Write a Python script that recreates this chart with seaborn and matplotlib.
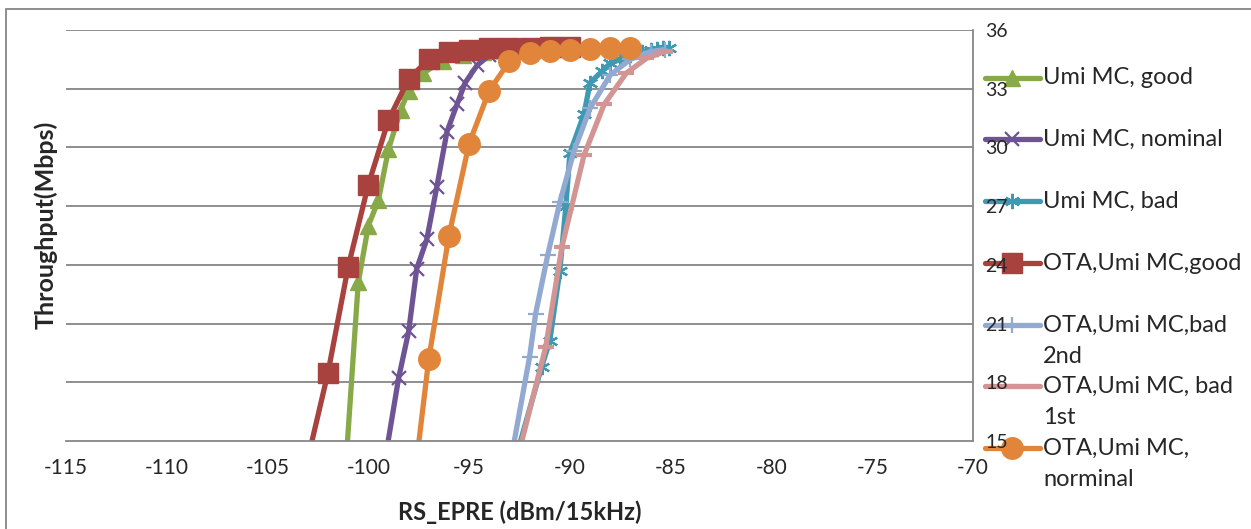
import matplotlib
matplotlib.use("Agg")
import matplotlib.pyplot as plt
from matplotlib.lines import Line2D
from matplotlib.patches import Rectangle
import seaborn as sns
import pandas as pd

# data
x_good = [-101.1, -100.5, -100.0, -99.5, -99.0, -98.4, -98.0, -97.3, -96.3, -95.3, -94.3, -93.3]
y_good = [14.0, 23.1, 26.0, 27.3, 29.9, 31.9, 32.9, 33.8, 34.4, 34.7, 34.9, 35.0]

x_nom = [-99.5, -98.5, -98.0, -97.6, -97.1, -96.6, -96.1, -95.6, -95.2, -94.6, -94.0, -93.3]
y_nom = [12.0, 18.2, 20.6, 23.8, 25.3, 28.0, 30.8, 32.2, 33.3, 34.2, 34.7, 34.9]

x_bad = [-93.0, -91.4, -91.0, -90.5, -90.2, -90.0, -89.3, -89.0, -88.4, -88.0, -87.5, -87.0,
         -86.4, -86.0, -85.7, -85.4, -85.1]
y_bad = [13.0, 18.8, 20.1, 23.7, 27.0, 29.7, 31.7, 33.3, 33.9, 34.3, 34.5, 34.7,
         34.9, 35.0, 35.05, 35.1, 35.1]

x_ota_good = [-103, -102, -101, -100, -99, -98, -97, -96, -95, -94, -93, -92, -91, -90]
y_ota_good = [14.1, 18.5, 23.9, 28.1, 31.4, 33.5, 34.5, 34.9, 35.0, 35.1, 35.1, 35.1, 35.15, 35.15]

x_bad2 = [-93.2, -92.0, -91.7, -91.1, -90.5, -89.8, -89.0, -88.0, -87.0, -86.0, -85.3]
y_bad2 = [12.5, 19.3, 21.5, 24.5, 27.2, 29.8, 32.0, 33.7, 34.5, 34.9, 35.0]

x_bad1 = [-93.0, -91.2, -90.4, -89.3, -88.3, -87.2, -86.2, -85.3]
y_bad1 = [12.5, 19.8, 24.9, 29.6, 32.2, 33.8, 34.55, 34.9]

x_ota_nom = [-98, -97, -96, -95, -94, -93, -92, -91, -90, -89, -88, -87]
y_ota_nom = [10.6, 19.2, 25.5, 30.2, 32.9, 34.4, 34.8, 34.95, 35.0, 35.05, 35.1, 35.1]

labels = ["Umi MC, good", "Umi MC, nominal", "Umi MC, bad", "OTA,Umi MC,good",
          "OTA,Umi MC,bad\n2nd", "OTA,Umi MC, bad\n1st", "OTA,Umi MC,\nnorminal"]
x_ticks = [-115, -110, -105, -100, -95, -90, -85, -80, -75, -70]
y_ticks = [15, 18, 21, 24, 27, 30, 33, 36]

series = [(x_good, y_good), (x_nom, y_nom), (x_bad, y_bad), (x_ota_good, y_ota_good),
          (x_bad2, y_bad2), (x_bad1, y_bad1), (x_ota_nom, y_ota_nom)]

# styles: colour, marker, marker size, marker edge width
styles = [
    ("#87A947", "^", 12, 1.0),
    ("#6E5494", "x", 10, 1.6),
    ("#3D9AB2", (6, 2, 0), 11, 1.6),
    ("#A8423F", "s", 14.5, 1.0),
    ("#92A9D1", "+", 12, 1.6),
    ("#D39494", "_", 12, 3.0),
    ("#E0853A", "o", 15.5, 1.0),
]

sns.set_style("white")
plt.rcParams["font.family"] = ["Lato", "DejaVu Sans"]

W, H = 1251, 529
fig = plt.figure(figsize=(W / 100, H / 100), dpi=100)
ax = fig.add_axes([66 / W, 1 - 441 / H, (973 - 66) / W, (441 - 30) / H])

grid_c = "#868686"
for yv in y_ticks[1:]:
    ax.axhline(yv, color=grid_c, lw=1.3, zorder=0)

for (xs, ys), lab, (c, m, ms, mew) in zip(series, labels, styles):
    df = pd.DataFrame({"x": xs, "y": ys})
    sns.lineplot(data=df, x="x", y="y", ax=ax, sort=False, estimator=None,
                 color=c, lw=3.8, marker=m, markersize=ms, markeredgewidth=mew,
                 markeredgecolor=c, markerfacecolor=c, clip_on=True)

ax.set_xlim(-115, -70)
ax.set_ylim(15, 36)
ax.set_xticks(x_ticks)
ax.set_yticks(y_ticks)
ax.yaxis.tick_right()
ax.tick_params(axis="x", direction="out", length=6, width=1.3, color=grid_c,
               labelsize=15, pad=6)
ax.tick_params(axis="y", length=0, labelsize=14, pad=9)
ax.set_xticklabels([str(v) for v in x_ticks])
for s in ["top", "left"]:
    ax.spines[s].set_visible(False)
for s in ["bottom", "right"]:
    ax.spines[s].set_color(grid_c)
    ax.spines[s].set_linewidth(1.3)
ax.set_xlabel("")
ax.set_ylabel("")

fig.text(520 / W, 1 - 512 / H, "RS_EPRE (dBm/15kHz)", ha="center", va="center",
         fontsize=17, fontweight="bold")
fig.text(46 / W, 1 - 225 / H, "Throughput(Mbps)", ha="center", va="center",
         rotation=90, fontsize=18, fontweight="bold")

# legend drawn by hand so the handle sits on the first text line;
# kept under the axes so the right-hand tick labels stay readable
leg_y = [78, 139, 201, 263, 325, 386, 448]
for yy, lab, (c, m, ms, mew) in zip(leg_y, labels, styles):
    fy = 1 - yy / H
    fig.add_artist(Line2D([985 / W, 1040 / W], [fy, fy], color=c, lw=3.8,
                          transform=fig.transFigure, zorder=-2))
    fig.add_artist(Line2D([1012 / W], [fy], color=c, marker=m, markersize=ms,
                          markeredgewidth=mew, markeredgecolor=c, markerfacecolor=c,
                          transform=fig.transFigure, zorder=-2))
    for k, line in enumerate(lab.split("\n")):
        fig.text(1043 / W, 1 - (yy + k * 31.7) / H, line, ha="left", va="center",
                 fontsize=17)

# chart area border
fig.add_artist(Rectangle((6 / W, -0.1), 1.2, 1 - 9 / H + 0.1, fill=False,
                         edgecolor=grid_c, lw=1.3, transform=fig.transFigure))

fig.savefig("out.png", dpi=100)
